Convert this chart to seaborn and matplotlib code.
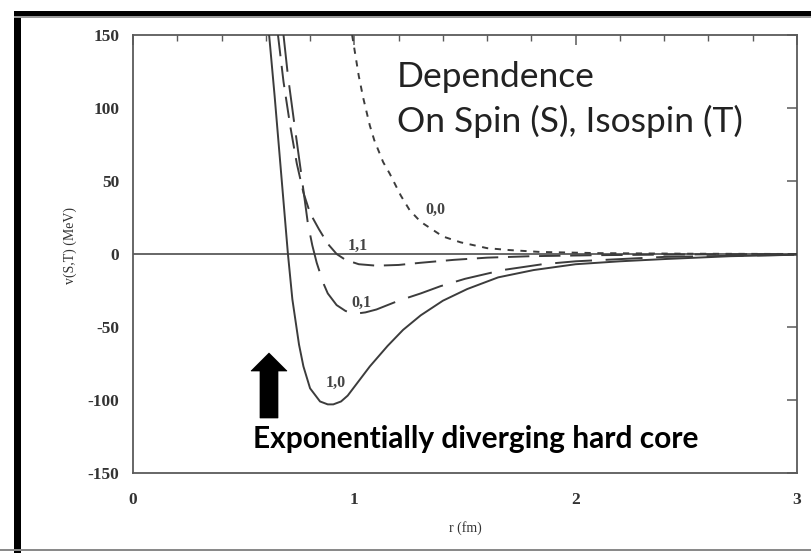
import numpy as np
import pandas as pd
import matplotlib
matplotlib.use("Agg")
import matplotlib.pyplot as plt
from matplotlib.patches import Rectangle, Polygon
import seaborn as sns

# Nucleon-nucleon potential v(S,T) versus separation r for each spin/isospin channel
r_10 = [0.615, 0.64, 0.67, 0.70, 0.72, 0.75, 0.77, 0.80, 0.845, 0.88, 0.905, 0.94, 0.97,
        1.00, 1.07, 1.15, 1.22, 1.30, 1.40, 1.51, 1.65, 1.81, 2.00, 2.20, 2.41, 2.70, 3.00]
v_10 = [150, 108, 54, 0, -31, -62, -77, -92, -101, -103, -103, -101, -97,
        -91, -77, -63, -52, -42, -32, -24, -16, -11, -7, -5, -3.4, -1.5, -0.5]

r_11 = [0.655, 0.68, 0.71, 0.74, 0.77, 0.80, 0.84, 0.88, 0.92, 0.96, 1.02, 1.10,
        1.20, 1.30, 1.45, 1.60, 1.80, 2.10, 2.50, 3.00]
v_11 = [150, 118, 88, 62, 42, 28, 17, 7, 0, -4, -7, -8,
        -7.5, -6, -4, -2.5, -1.5, -0.8, -0.3, 0]

r_01 = [0.68, 0.70, 0.73, 0.76, 0.79, 0.81, 0.83, 0.86, 0.88, 0.92, 0.96, 1.00, 1.05,
        1.10, 1.20, 1.30, 1.39, 1.50, 1.67, 1.85, 2.00, 2.40, 3.00]
v_01 = [150, 122, 88, 55, 21, 6, -6, -20, -27, -35, -39, -41, -40,
        -38, -32, -27, -22, -17, -11, -7, -5, -2, -0.5]

r_00 = [0.99, 1.02, 1.04, 1.07, 1.09, 1.13, 1.16, 1.21, 1.25, 1.30, 1.36, 1.40,
        1.48, 1.60, 1.70, 1.84, 2.10, 2.50, 3.00]
v_00 = [150, 122, 107, 88, 78, 63, 55, 40, 30, 22, 16, 12,
        8, 4, 2.7, 1.4, 0.6, 0.2, 0]

channel_labels = ["1,0", "0,1", "1,1", "0,0"]
label_r = [0.917, 1.03, 1.017, 1.365]
label_v = [-88, -33.5, 5.5, 30]

x_ticks = [0, 1, 2, 3]
y_ticks = [-150, -100, -50, 0, 50, 100, 150]

W, H = 812, 553
fig = plt.figure(figsize=(W / 100, H / 100), dpi=100)
sns.set_style("white")
ax = fig.add_axes([133 / W, 1 - 473 / H, (797 - 133) / W, (473 - 35) / H])

line_col = "#3c3c3c"
frame_col = "#5a5a5a"

ax.axhline(0, color=frame_col, lw=1.3, zorder=1)

curves = [
    (r_10, v_10, "-"),
    (r_01, v_01, (0, (19, 7))),
    (r_11, v_11, (0, (11, 5))),
    (r_00, v_00, (0, (3.2, 3.4))),
]
for rr, vv, ls in curves:
    df = pd.DataFrame({"r": rr, "v": vv})
    sns.lineplot(data=df, x="r", y="v", ax=ax, sort=False, estimator=None,
                 color=line_col, lw=1.4, linestyle=ls, zorder=3)

serif = ["Liberation Serif", "DejaVu Serif"]
for lab, lr, lv in zip(channel_labels, label_r, label_v):
    ax.text(lr, lv, lab, ha="center", va="center", fontsize=11.5,
            family=serif, weight="bold", color="#444444")

ax.set_xlim(0, 3)
ax.set_ylim(-150, 150)
ax.set_xticks(x_ticks)
ax.set_yticks(y_ticks)
ax.set_xticks(np.arange(0, 3.01, 0.2), minor=True)
ax.set_xticklabels([str(t) for t in x_ticks])
ax.set_yticklabels([str(t) for t in y_ticks])

for sp in ax.spines.values():
    sp.set_color(frame_col)
    sp.set_linewidth(1.3)

ax.tick_params(axis="both", which="both", direction="in", top=True, right=True,
               color=frame_col)
ax.tick_params(axis="both", which="major", length=7, width=1.1)
ax.tick_params(axis="x", which="minor", length=4, width=1.0)
ax.tick_params(axis="x", which="major", pad=14)
ax.tick_params(axis="y", which="major", pad=10)
for t in ax.get_xticklabels() + ax.get_yticklabels():
    t.set_family(serif)
    t.set_weight("bold")
    t.set_fontsize(12.5)
    t.set_color("#333333")

ax.set_xlabel("r (fm)", family=serif, fontsize=10, color="#333333")
ax.set_ylabel("v(S,T) (MeV)", family=serif, fontsize=10, color="#333333")
ax.xaxis.set_label_coords(0.5, (473 - 521) / 438)
ax.yaxis.set_label_coords((77 - 133) / 664, (473 - 245) / 438)

# Annotations
sans = ["Lato", "DejaVu Sans"]
fig.text(397 / W, 1 - 87 / H, "Dependence", family=sans, fontsize=25.5,
         color="#222222", va="baseline", ha="left")
fig.text(397 / W, 1 - 132 / H, "On Spin (S), Isospin (T)", family=sans, fontsize=25.5,
         color="#222222", va="baseline", ha="left")
fig.text(253 / W, 1 - 448 / H, "Exponentially diverging hard core", family=sans,
         fontsize=21.5, weight="bold", color="black", va="baseline", ha="left")

arrow_px = [(260, 418), (278, 418), (278, 371), (287, 371), (269, 353), (251, 371), (260, 371)]
fig.add_artist(Polygon([(x / W, 1 - y / H) for x, y in arrow_px], closed=True,
                       transform=fig.transFigure, facecolor="black", edgecolor="black", lw=0.5))

# Page frame around the figure
fig.add_artist(Rectangle((14 / W, 0), 7 / W, 1 - 11 / H, transform=fig.transFigure,
                         facecolor="black", edgecolor="none"))
fig.add_artist(Rectangle((14 / W, 1 - 16 / H), 1, 5 / H, transform=fig.transFigure,
                         facecolor="black", edgecolor="none"))
fig.add_artist(Rectangle((14 / W, 1 - 18 / H), 1, 2 / H, transform=fig.transFigure,
                         facecolor="#9a9a9a", edgecolor="none"))
fig.add_artist(Rectangle((0, 1 - 551 / H), 1, 2 / H, transform=fig.transFigure,
                         facecolor="#8a8a8a", edgecolor="none"))

fig.savefig("out.png", dpi=100, facecolor="white")
